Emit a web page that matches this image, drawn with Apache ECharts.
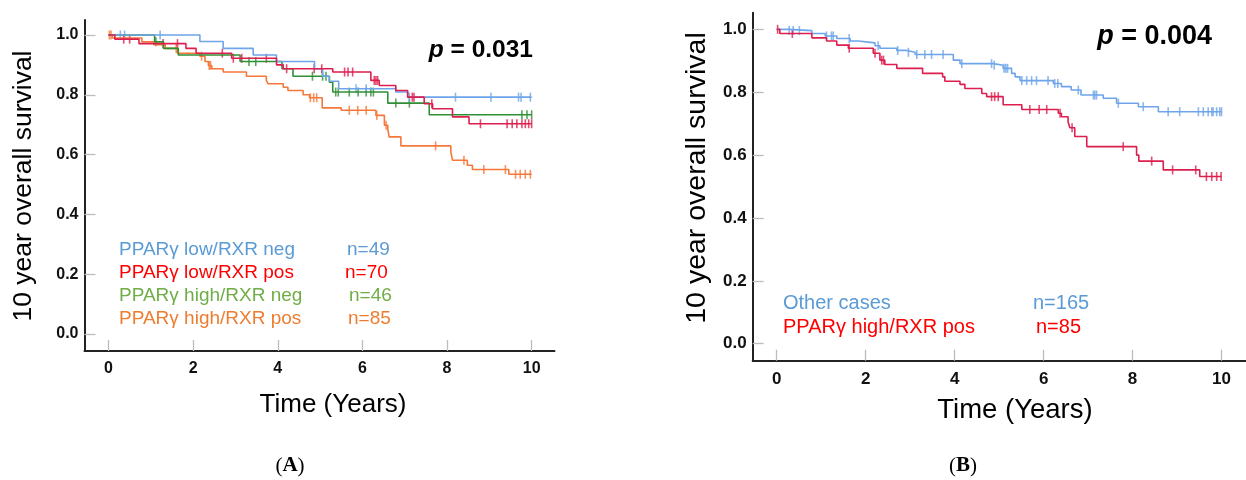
<!DOCTYPE html>
<html>
<head>
<meta charset="utf-8">
<script src="https://cdn.jsdelivr.net/npm/echarts@6/dist/echarts.min.js"></script>
<style>
html,body{margin:0;padding:0;background:#fff;}
#chart{width:1246px;height:480px;}
</style>
</head>
<body>
<div id="chart"></div>
<script>
// ---------- Panel A data ----------
const legendA = ['PPARγ low/RXR neg', 'PPARγ low/RXR pos', 'PPARγ high/RXR neg', 'PPARγ high/RXR pos'];
const nA = ['n=49', 'n=70', 'n=46', 'n=85'];
const pA = '0.031';

const aLowNegT = [0, 2.16, 2.71, 3.42, 3.97, 4.87, 5.06, 5.22, 5.44, 6.79, 7.07, 10];
const aLowNegS = [1.0, 0.978, 0.955, 0.933, 0.911, 0.887, 0.862, 0.845, 0.820, 0.809, 0.792, 0.792];
const aLowNegC = [0.28, 0.38, 1.22, 5.85, 6.09, 7.11, 8.20, 9.04, 9.69, 9.75, 9.97];

const aLowPosT = [0, 0.15, 0.72, 1.83, 2.07, 2.91, 3.97, 4.13, 5.30, 6.20, 6.40, 6.79, 7.07, 7.46, 7.66, 8.13, 8.52, 10];
const aLowPosS = [1.0, 0.986, 0.971, 0.955, 0.939, 0.922, 0.900, 0.887, 0.876, 0.848, 0.831, 0.814, 0.792, 0.770, 0.753, 0.726, 0.703, 0.703];
const aLowPosC = [0.36, 0.50, 1.29, 1.63, 2.69, 2.95, 3.15, 3.73, 4.21, 4.86, 5.04, 5.58, 5.66, 5.77, 6.28, 6.32, 6.36, 7.18, 7.22, 7.64, 8.79, 9.42, 9.54, 9.65, 9.77, 9.85, 9.93, 10.0];

const aHighNegT = [0, 1.09, 1.30, 1.65, 3.11, 4.10, 4.36, 5.22, 5.30, 6.60, 7.58, 10];
const aHighNegS = [1.0, 0.977, 0.955, 0.933, 0.911, 0.887, 0.862, 0.842, 0.809, 0.772, 0.733, 0.733];
const aHighNegC = [1.12, 3.32, 3.48, 4.82, 5.06, 5.14, 5.37, 5.43, 5.69, 5.90, 6.09, 6.20, 6.26, 6.79, 7.11, 9.77, 9.89, 10.0];

const aHighPosT = [0, 0.09, 0.79, 1.07, 1.34, 1.63, 2.16, 2.28, 2.36, 2.44, 2.71, 3.26, 3.73, 3.77, 4.13, 4.24, 4.60, 4.75, 5.05, 5.50, 6.32, 6.52, 6.60, 6.63, 6.91, 8.09, 8.13, 8.48, 8.60, 9.46, 10];
const aHighPosS = [1.0, 0.990, 0.977, 0.967, 0.955, 0.939, 0.929, 0.911, 0.898, 0.887, 0.876, 0.862, 0.848, 0.837, 0.825, 0.814, 0.800, 0.790, 0.756, 0.748, 0.731, 0.698, 0.687, 0.659, 0.629, 0.609, 0.581, 0.564, 0.550, 0.534, 0.534];
const aHighPosC = [0.02, 0.06, 1.60, 2.20, 2.38, 2.41, 4.77, 4.85, 4.92, 5.69, 5.89, 6.09, 6.34, 6.56, 7.73, 8.40, 8.87, 9.38, 9.62, 9.73, 9.85, 9.97];

// ---------- Panel B data ----------
const legendB = ['Other cases', 'PPARγ high/RXR pos'];
const nB = ['n=165', 'n=85'];
const pB = '0.004';

const bOtherT = [0, 0.26, 0.79, 1.09, 1.35, 1.65, 1.83, 2.21, 2.32, 2.70, 2.92, 3.11, 3.97, 4.12, 4.87, 5.09, 5.28, 5.36, 5.47, 6.22, 6.40, 6.62, 6.84, 7.34, 7.64, 8.13, 8.58, 10];
const bOtherS = [1.0, 0.996, 0.987, 0.979, 0.971, 0.963, 0.957, 0.948, 0.940, 0.933, 0.927, 0.920, 0.902, 0.891, 0.886, 0.876, 0.860, 0.849, 0.837, 0.828, 0.818, 0.807, 0.791, 0.781, 0.765, 0.754, 0.738, 0.738];
const bOtherC = [0.28, 0.37, 0.51, 1.12, 1.23, 1.27, 1.63, 2.28, 2.72, 2.96, 3.15, 3.33, 3.48, 3.74, 4.16, 4.83, 4.89, 5.11, 5.15, 5.19, 5.51, 5.62, 5.73, 5.84, 6.10, 6.25, 6.32, 6.78, 7.12, 7.15, 7.19, 7.68, 8.24, 8.80, 9.06, 9.48, 9.59, 9.70, 9.78, 9.81, 9.89, 9.96, 10.0];

const bHighPosT = [0, 0.07, 0.79, 1.12, 1.35, 1.61, 2.17, 2.32, 2.43, 2.70, 3.28, 3.73, 3.78, 4.12, 4.23, 4.61, 4.72, 5.09, 5.51, 6.33, 6.40, 6.55, 6.59, 6.70, 6.97, 8.09, 8.14, 8.69, 9.51, 10];
const bHighPosS = [1.0, 0.987, 0.973, 0.963, 0.950, 0.940, 0.924, 0.902, 0.888, 0.876, 0.860, 0.849, 0.835, 0.825, 0.812, 0.796, 0.786, 0.760, 0.745, 0.733, 0.722, 0.706, 0.687, 0.659, 0.627, 0.600, 0.581, 0.553, 0.532, 0.532];
const bHighPosC = [0.02, 0.35, 1.63, 2.21, 2.36, 2.40, 4.83, 4.90, 4.98, 5.69, 5.90, 6.07, 6.37, 6.64, 7.79, 8.43, 8.90, 9.42, 9.66, 9.78, 9.89, 9.99];

// ticks
const xTicks = [0, 2, 4, 6, 8, 10];
const yTicks = [0, 0.2, 0.4, 0.6, 0.8, 1.0];

// colours
const lineColorsA = ['#6ea5ea', '#dc1f4e', '#2f8f35', '#f5783a'];
const textColorsA = ['#5b9bd5', '#ff0000', '#70ad47', '#ed7d31'];
const lineColorsB = ['#6ea5ea', '#dc1f4e'];
const textColorsB = ['#5b9bd5', '#ff0000'];

const FONT = 'Liberation Sans, Arial, sans-serif';

function stepPts(T, S) { return T.map((t, i) => [t, S[i]]); }
function censorPts(C, T, S) {
  return C.map(c => {
    let v = S[0];
    for (let i = 0; i < T.length; i++) if (T[i] <= c) v = S[i];
    return [c, v];
  });
}

function mkSeries(name, T, S, C, color, gi) {
  return [
    { name: name, type: 'line', step: 'end', xAxisIndex: gi, yAxisIndex: gi,
      data: stepPts(T, S), showSymbol: false, symbol: 'none', silent: true,
      lineStyle: { color: color, width: 1.6 }, animation: false },
    { name: name + ' censored', type: 'scatter', xAxisIndex: gi, yAxisIndex: gi,
      data: censorPts(C, T, S), symbol: 'rect', symbolSize: [1.6, 9],
      itemStyle: { color: color }, silent: true, animation: false }
  ];
}

function mkX(gi, min, max, fs) {
  return {
    gridIndex: gi, type: 'value', min: min, max: max,
    axisLine: { show: true, onZero: false, lineStyle: { color: '#222', width: 2 } },
    axisTick: { show: true, inside: true, length: 11, customValues: xTicks, lineStyle: { color: '#bdbdbd', width: 1.3 } },
    axisLabel: { customValues: xTicks, fontSize: fs, fontWeight: 'bold', color: '#111', margin: 10, fontFamily: FONT },
    splitLine: { show: false }
  };
}
function mkY(gi, min, max, fs) {
  return {
    gridIndex: gi, type: 'value', min: min, max: max,
    axisLine: { show: true, onZero: false, lineStyle: { color: '#222', width: 2 } },
    axisTick: { show: true, inside: true, length: 11, customValues: yTicks, lineStyle: { color: '#bdbdbd', width: 1.3 } },
    axisLabel: { customValues: yTicks, fontSize: fs, fontWeight: 'bold', color: '#111', margin: 6, fontFamily: FONT,
      formatter: v => Number(v).toFixed(1) },
    splitLine: { show: false }
  };
}

function txt(text, x, y, opts) {
  return Object.assign({
    type: 'text', x: x, y: y, silent: true,
    style: Object.assign({ text: text, fill: '#000', font: '25px ' + FONT, align: 'center', verticalAlign: 'middle' }, opts.style || {})
  }, opts.el || {});
}

const graphics = [];
// axis titles
graphics.push(txt('10 year overall survival', 24, 186, { el: { rotation: Math.PI / 2 }, style: { font: '26.5px ' + FONT } }));
graphics.push(txt('Time (Years)', 333, 405, { style: { font: '26px ' + FONT } }));
graphics.push(txt('10 year overall survival', 697, 178, { el: { rotation: Math.PI / 2 }, style: { font: '28.5px ' + FONT } }));
graphics.push(txt('Time (Years)', 1015, 410, { style: { font: '27.5px ' + FONT } }));
// p values
graphics.push({ type: 'text', x: 533, y: 50, silent: true, style: {
  text: '{i|p} = ' + pA, align: 'right', verticalAlign: 'middle', fill: '#000',
  fontFamily: FONT, fontSize: 24.5, fontWeight: 'bold',
  rich: { i: { fontStyle: 'italic', fontWeight: 'bold', fontFamily: FONT, fontSize: 24.5 } } } });
graphics.push({ type: 'text', x: 1212, y: 37, silent: true, style: {
  text: '{i|p} = ' + pB, align: 'right', verticalAlign: 'middle', fill: '#000',
  fontFamily: FONT, fontSize: 27, fontWeight: 'bold',
  rich: { i: { fontStyle: 'italic', fontWeight: 'bold', fontFamily: FONT, fontSize: 27 } } } });
// legend A
const legAY = [250, 273, 296, 319];
const legANx = [347, 345, 349, 348];
legendA.forEach((s, i) => {
  graphics.push(txt(s, 119, legAY[i], { style: { align: 'left', fill: textColorsA[i], font: '19px ' + FONT } }));
  graphics.push(txt(nA[i], legANx[i], legAY[i], { style: { align: 'left', fill: textColorsA[i], font: '19px ' + FONT } }));
});
// legend B
const legBY = [303, 327];
const legBNx = [1033, 1036];
legendB.forEach((s, i) => {
  graphics.push(txt(s, 783, legBY[i], { style: { align: 'left', fill: textColorsB[i], font: '20px ' + FONT } }));
  graphics.push(txt(nB[i], legBNx[i], legBY[i], { style: { align: 'left', fill: textColorsB[i], font: '20px ' + FONT } }));
});
// captions
graphics.push({ type: 'text', x: 290, y: 466, silent: true, style: {
  text: '({b|A})', align: 'center', verticalAlign: 'middle', fill: '#000',
  fontFamily: 'Liberation Serif, serif', fontSize: 21, rich: { b: { fontWeight: 'bold', fontFamily: 'Liberation Serif, serif', fontSize: 21 } } } });
graphics.push({ type: 'text', x: 963, y: 466, silent: true, style: {
  text: '({b|B})', align: 'center', verticalAlign: 'middle', fill: '#000',
  fontFamily: 'Liberation Serif, serif', fontSize: 21, rich: { b: { fontWeight: 'bold', fontFamily: 'Liberation Serif, serif', fontSize: 21 } } } });

const series = [].concat(
  mkSeries(legendA[3], aHighPosT, aHighPosS, aHighPosC, lineColorsA[3], 0),
  mkSeries(legendA[2], aHighNegT, aHighNegS, aHighNegC, lineColorsA[2], 0),
  mkSeries(legendA[0], aLowNegT, aLowNegS, aLowNegC, lineColorsA[0], 0),
  mkSeries(legendA[1], aLowPosT, aLowPosS, aLowPosC, lineColorsA[1], 0),
  mkSeries(legendB[0], bOtherT, bOtherS, bOtherC, lineColorsB[0], 1),
  mkSeries(legendB[1], bHighPosT, bHighPosS, bHighPosC, lineColorsB[1], 1)
);

const chart = echarts.init(document.getElementById('chart'), null, { renderer: 'canvas' });
chart.setOption({
  backgroundColor: '#fff',
  animation: false,
  grid: [
    { left: 84.5, top: 20, width: 470, height: 331, containLabel: false },
    { left: 752.7, top: 12.7, width: 493.3, height: 348, containLabel: false }
  ],
  xAxis: [ mkX(0, -0.567, 10.54, 16), mkX(1, -0.54, 10.55, 17) ],
  yAxis: [ mkY(0, -0.057, 1.050, 16), mkY(1, -0.054, 1.053, 17) ],
  series: series,
  graphic: graphics
});
</script>
</body>
</html>
